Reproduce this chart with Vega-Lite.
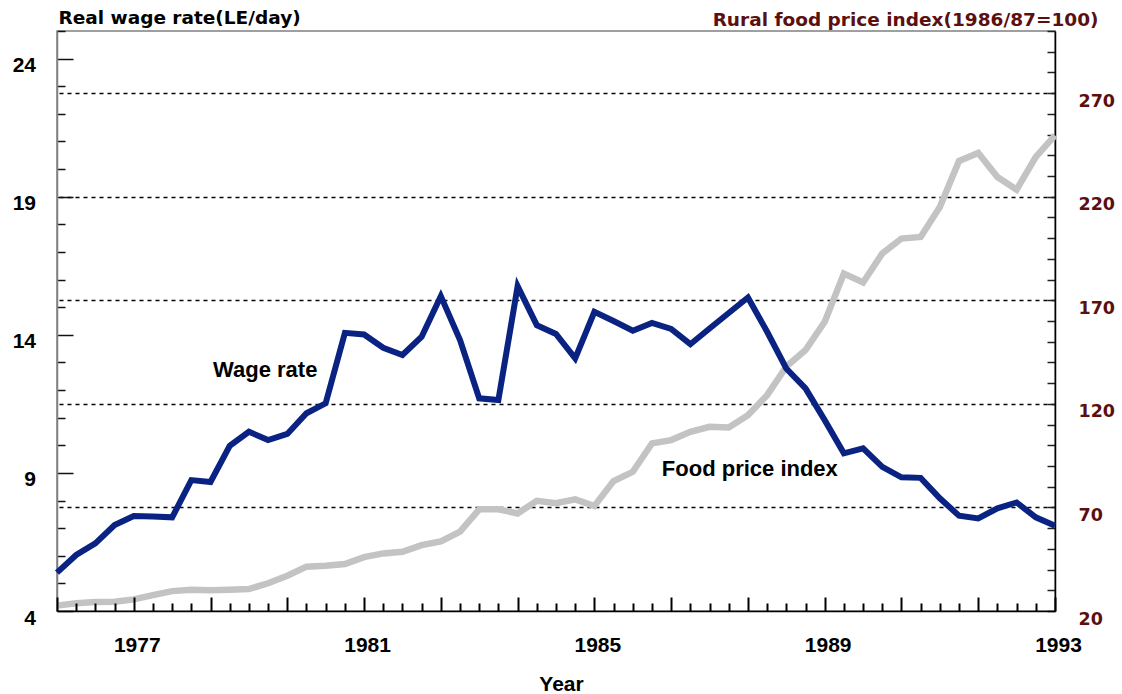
{
  "$schema": "https://vega.github.io/schema/vega-lite/v6.json",
  "width": 998,
  "height": 580,
  "autosize": "none",
  "padding": {"left": 57, "top": 31, "right": 67, "bottom": 83},
  "background": "white",
  "config": {
    "view": {"stroke": "#808080", "strokeWidth": 1.5},
    "axis": {"grid": false, "domainWidth": 1.5, "tickWidth": 1.5, "labelOverlap": false, "labelFlush": false, "tickCount": 200}
  },
  "data": {
    "values": [
      {"t": 1975.667, "wage": 5.39, "food": 22.6},
      {"t": 1976.0, "wage": 6.03, "food": 23.7},
      {"t": 1976.333, "wage": 6.45, "food": 24.3},
      {"t": 1976.667, "wage": 7.11, "food": 24.5},
      {"t": 1977.0, "wage": 7.44, "food": 25.6},
      {"t": 1977.333, "wage": 7.42, "food": 27.7},
      {"t": 1977.667, "wage": 7.39, "food": 29.6},
      {"t": 1978.0, "wage": 8.74, "food": 30.3},
      {"t": 1978.333, "wage": 8.67, "food": 30.0},
      {"t": 1978.667, "wage": 9.98, "food": 30.3},
      {"t": 1979.0, "wage": 10.49, "food": 30.6},
      {"t": 1979.333, "wage": 10.19, "food": 33.4},
      {"t": 1979.667, "wage": 10.41, "food": 37.0},
      {"t": 1980.0, "wage": 11.16, "food": 41.4},
      {"t": 1980.333, "wage": 11.52, "food": 41.9},
      {"t": 1980.667, "wage": 14.07, "food": 42.7},
      {"t": 1981.0, "wage": 14.01, "food": 46.0},
      {"t": 1981.333, "wage": 13.53, "food": 47.8},
      {"t": 1981.667, "wage": 13.27, "food": 48.6},
      {"t": 1982.0, "wage": 13.93, "food": 51.8},
      {"t": 1982.333, "wage": 15.40, "food": 53.6},
      {"t": 1982.667, "wage": 13.81, "food": 58.3},
      {"t": 1983.0, "wage": 11.70, "food": 69.1},
      {"t": 1983.333, "wage": 11.64, "food": 69.1},
      {"t": 1983.667, "wage": 15.76, "food": 67.1},
      {"t": 1984.0, "wage": 14.35, "food": 73.2},
      {"t": 1984.333, "wage": 14.03, "food": 72.0},
      {"t": 1984.667, "wage": 13.15, "food": 73.9},
      {"t": 1985.0, "wage": 14.83, "food": 70.7},
      {"t": 1985.333, "wage": 14.50, "food": 82.7},
      {"t": 1985.667, "wage": 14.15, "food": 87.2},
      {"t": 1986.0, "wage": 14.43, "food": 100.9},
      {"t": 1986.333, "wage": 14.21, "food": 102.5},
      {"t": 1986.667, "wage": 13.66, "food": 106.5},
      {"t": 1987.0, "wage": 14.23, "food": 108.9},
      {"t": 1987.333, "wage": 14.79, "food": 108.6},
      {"t": 1987.667, "wage": 15.35, "food": 114.5},
      {"t": 1988.0, "wage": 14.11, "food": 124.2},
      {"t": 1988.333, "wage": 12.78, "food": 138.0},
      {"t": 1988.667, "wage": 12.06, "food": 146.0},
      {"t": 1989.0, "wage": 10.91, "food": 159.6},
      {"t": 1989.333, "wage": 9.71, "food": 182.9},
      {"t": 1989.667, "wage": 9.89, "food": 178.6},
      {"t": 1990.0, "wage": 9.22, "food": 192.6},
      {"t": 1990.333, "wage": 8.84, "food": 199.8},
      {"t": 1990.667, "wage": 8.82, "food": 200.6},
      {"t": 1991.0, "wage": 8.08, "food": 215.0},
      {"t": 1991.333, "wage": 7.45, "food": 237.2},
      {"t": 1991.667, "wage": 7.35, "food": 241.1},
      {"t": 1992.0, "wage": 7.72, "food": 229.5},
      {"t": 1992.333, "wage": 7.93, "food": 223.4},
      {"t": 1992.667, "wage": 7.39, "food": 239.2},
      {"t": 1993.0, "wage": 7.09, "food": 249.6}
    ]
  },
  "layer": [
    {
      "layer": [
        {
          "mark": {"type": "line", "color": "#c3c3c3", "strokeWidth": 6.5},
          "encoding": {
            "x": {
              "field": "t",
              "type": "quantitative",
              "scale": {"domain": [1975.667, 1993], "nice": false, "zero": false},
              "axis": {
                "orient": "bottom",
                "zindex": 2,
                "title": "Year",
                "titleFont": "Liberation Sans",
                "titleFontSize": 21,
                "titleFontWeight": "bold",
                "titleColor": "#000000",
                "titleX": 504,
                "titleY": 79,
                "titleAlign": "center",
                "titleBaseline": "alphabetic",
                "tickCount": 200,
                "values": [1975.667, 1976.0, 1976.333, 1976.667, 1977.0, 1977.333, 1977.667, 1978.0, 1978.333, 1978.667, 1979.0, 1979.333, 1979.667, 1980.0, 1980.333, 1980.667, 1981.0, 1981.333, 1981.667, 1982.0, 1982.333, 1982.667, 1983.0, 1983.333, 1983.667, 1984.0, 1984.333, 1984.667, 1985.0, 1985.333, 1985.667, 1986.0, 1986.333, 1986.667, 1987.0, 1987.333, 1987.667, 1988.0, 1988.333, 1988.667, 1989.0, 1989.333, 1989.667, 1990.0, 1990.333, 1990.667, 1991.0, 1991.333, 1991.667, 1992.0, 1992.333, 1992.667, 1993.0],
                "labelExpr": "abs(round((datum.value - 1977) * 3)) % 12 == 0 ? toString(round(datum.value)) : ''",
                "labelFont": "Liberation Sans",
                "labelFontSize": 21,
                "labelFontWeight": "bold",
                "labelColor": "#000000",
                "labelOffset": 3,
                "labelPadding": 37,
                "domainColor": "#000000",
                "ticks": true,
                "tickColor": "#000000",
                "tickWidth": 2,
                "tickSize": {"condition": {"test": "abs(round((datum.value - 1977) * 3)) % 4 == 0", "value": -14}, "value": -8}
              }
            },
            "y": {
              "field": "food",
              "type": "quantitative",
              "scale": {"domain": [20, 300], "nice": false, "zero": false},
              "axis": {
                "orient": "right",
                "title": "Rural food price index(1986/87=100)",
                "titleFont": "DejaVu Sans",
                "titleFontSize": 18.5,
                "titleFontWeight": "bold",
                "titleColor": "#5b0f0f",
                "titleAngle": 0,
                "titleAlign": "right",
                "titleBaseline": "alphabetic",
                "titleX": 43,
                "titleY": -6,
                "tickCount": 200,
                "values": [20, 30, 40, 50, 60, 70, 80, 90, 100, 110, 120, 130, 140, 150, 160, 170, 180, 190, 200, 210, 220, 230, 240, 250, 260, 270, 280, 290, 300],
                "labelExpr": "(datum.value - 20) % 50 == 0 ? toString(datum.value) : ''",
                "labelFont": "DejaVu Sans",
                "labelFontSize": 17.5,
                "labelFontWeight": "bold",
                "labelColor": "#5b0f0f",
                "labelPadding": 31,
                "labelOffset": 8,
                "domainColor": "#000000",
                "tickColor": "#222222",
                "tickSize": -8,
                "grid": true,
                "gridColor": "#000000",
                "gridWidth": 1.5,
                "gridDash": [4, 4],
                "gridOpacity": {"condition": {"test": "(datum.value - 20) % 50 == 0 && datum.value > 20", "value": 1}, "value": 0}
              }
            }
          }
        },
        {
          "data": {"values": [{"label": "Food price index"}]},
          "mark": {"type": "text", "font": "Liberation Sans", "fontSize": 22, "fontWeight": "bold", "fill": "#000000", "align": "center", "baseline": "middle"},
          "encoding": {
            "x": {"datum": 1987.7, "type": "quantitative"},
            "y": {"datum": 88.5, "type": "quantitative"},
            "text": {"field": "label"}
          }
        }
      ]
    },
    {
      "layer": [
        {
          "mark": {"type": "line", "color": "#0a2382", "strokeWidth": 6},
          "encoding": {
            "x": {"field": "t", "type": "quantitative"},
            "y": {
              "field": "wage",
              "type": "quantitative",
              "scale": {"domain": [4, 25], "nice": false, "zero": false},
              "axis": {
                "orient": "left",
                "title": "Real wage rate(LE/day)",
                "titleFont": "DejaVu Sans",
                "titleFontSize": 18.5,
                "titleFontWeight": "bold",
                "titleColor": "#000000",
                "titleAngle": 0,
                "titleAlign": "left",
                "titleBaseline": "alphabetic",
                "titleX": 1,
                "titleY": -7.5,
                "tickCount": 200,
                "values": [4, 5, 6, 7, 8, 9, 10, 11, 12, 13, 14, 15, 16, 17, 18, 19, 20, 21, 22, 23, 24, 25],
                "labelExpr": "datum.value % 5 == 4 ? toString(datum.value) : ''",
                "labelFont": "Liberation Sans",
                "labelFontSize": 21,
                "labelFontWeight": "bold",
                "labelColor": "#000000",
                "labelPadding": 37.5,
                "labelOffset": 7,
                "domainColor": "#808080",
                "tickColor": "#111111",
                "tickSize": {"condition": {"test": "datum.value % 5 == 4", "value": -16}, "value": -8}
              }
            }
          }
        },
        {
          "data": {"values": [{"label": "Wage rate"}]},
          "mark": {"type": "text", "font": "Liberation Sans", "fontSize": 22, "fontWeight": "bold", "fill": "#000000", "align": "center", "baseline": "middle"},
          "encoding": {
            "x": {"datum": 1979.283, "type": "quantitative"},
            "y": {"datum": 12.72, "type": "quantitative"},
            "text": {"field": "label"}
          }
        }
      ]
    }
  ],
  "resolve": {"scale": {"y": "independent"}}
}
